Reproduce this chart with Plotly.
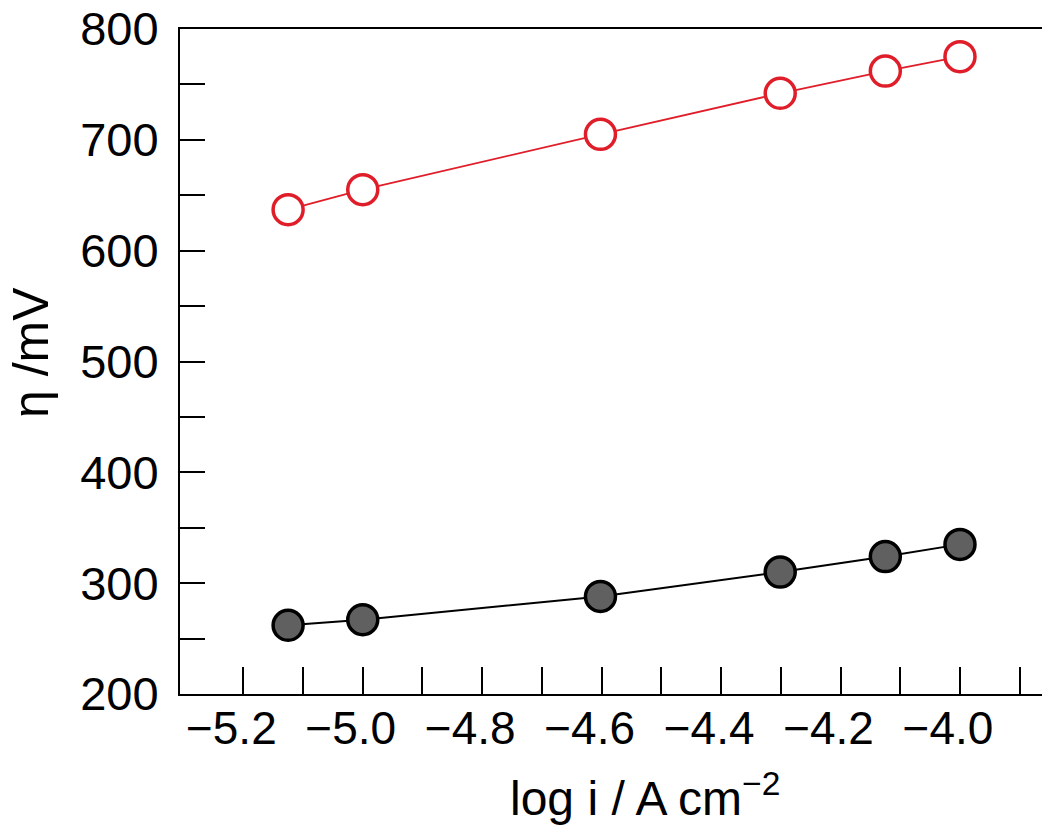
import plotly.graph_objects as go

# Data
log_i = [-5.125, -5.0, -4.602, -4.301, -4.125, -4.0]
eta_red = [637, 655, 705, 742, 762, 775]
eta_black = [262, 267, 288, 310, 324, 335]

x_tick_vals = [-5.2, -5.0, -4.8, -4.6, -4.4, -4.2, -4.0]
x_tick_labels = ["\u22125.2", "\u22125.0", "\u22124.8", "\u22124.6", "\u22124.4", "\u22124.2", "\u22124.0"]
x_minor_vals = [-5.1, -4.9, -4.7, -4.5, -4.3, -4.1, -3.9]
y_tick_vals = [200, 300, 400, 500, 600, 700, 800]
y_tick_labels = ["200", "300", "400", "500", "600", "700", "800"]

RED = "rgb(224,30,42)"
FONT = "Liberation Sans, Arial, sans-serif"

fig = go.Figure()
fig.add_trace(go.Scatter(
    x=log_i, y=eta_red, mode="lines+markers",
    line=dict(color=RED, width=1.8),
    marker=dict(size=30, color="white", line=dict(color=RED, width=3.5)),
    showlegend=False, cliponaxis=False,
))
fig.add_trace(go.Scatter(
    x=log_i, y=eta_black, mode="lines+markers",
    line=dict(color="black", width=2),
    marker=dict(size=30, color="rgb(96,96,96)", line=dict(color="black", width=3.5)),
    showlegend=False, cliponaxis=False,
))

fig.update_layout(
    width=1042, height=820,
    margin=dict(l=172, r=7, t=21, b=134),
    paper_bgcolor="white", plot_bgcolor="white",
    font=dict(family=FONT, color="black"),
    xaxis=dict(
        range=[-5.306, -3.861], tickvals=x_tick_vals, ticktext=x_tick_labels,
        ticks="inside", ticklen=27, tickwidth=1.8, tickcolor="black",
        minor=dict(tickvals=x_minor_vals, ticks="inside", ticklen=27, tickwidth=1.8, tickcolor="black"),
        showline=True, linecolor="black", linewidth=2, mirror=True,
        showgrid=False, zeroline=False, automargin=False, ticklabeloverflow="allow",
        tickfont=dict(size=46, family=FONT), ticklabelshift=-12, ticklabelstandoff=-7,
    ),
    yaxis=dict(
        range=[200, 800], tickvals=y_tick_vals, ticktext=y_tick_labels,
        ticks="inside", ticklen=25, tickwidth=1.8, tickcolor="black",
        minor=dict(dtick=50, tick0=250, ticks="inside", ticklen=25, tickwidth=1.8, tickcolor="black"),
        showline=True, linecolor="black", linewidth=2, mirror=True,
        showgrid=False, zeroline=False, automargin=False, ticklabeloverflow="allow",
        tickfont=dict(size=47, family=FONT), ticklabelstandoff=10,
    ),
    annotations=[
        dict(text="\u03b7 /mV", xref="paper", yref="paper", x=-0.1729, y=0.514,
             textangle=-90, showarrow=False, font=dict(size=50, family=FONT),
             xanchor="center", yanchor="middle"),
        dict(text="log i / A cm<sup>\u22122</sup>", xref="paper", yref="paper", x=0.539, y=-0.152,
             showarrow=False, font=dict(size=48, family=FONT),
             xanchor="center", yanchor="middle"),
    ],
)

fig.write_html("out.html")
